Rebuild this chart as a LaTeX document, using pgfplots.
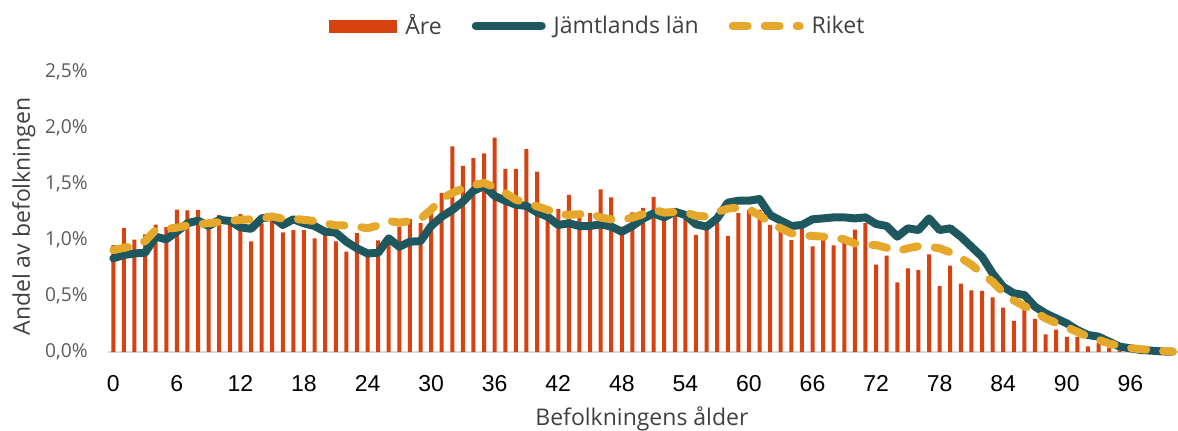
\documentclass[border=0pt]{standalone}
\usepackage{fontspec}
\setmainfont{Open Sans}
\newfontfamily\tickfont{Liberation Sans}
\usepackage{pgfplots}
\usepackage{pgfplotstable}
\pgfplotsset{compat=1.18}

\definecolor{are}{RGB}{215,66,17}
\definecolor{jamt}{RGB}{30,88,94}
\definecolor{riket}{RGB}{230,168,42}
\definecolor{axgrey}{RGB}{217,217,217}
\definecolor{txt}{RGB}{64,64,64}
\definecolor{ticktxt}{RGB}{89,89,89}

\pgfplotstableread{
age are jamt riket
0 0.955 0.837 0.91
1 1.107 0.866 0.93
2 1.003 0.88 0.95
3 1.05 0.886 0.99
4 1.137 1.03 1.09
5 1.116 1.006 1.10
6 1.271 1.074 1.11
7 1.265 1.149 1.13
8 1.268 1.173 1.14
9 1.12 1.125 1.15
10 1.223 1.18 1.16
11 1.19 1.17 1.17
12 1.232 1.113 1.18
13 0.988 1.10 1.185
14 1.149 1.193 1.19
15 1.173 1.208 1.21
16 1.069 1.134 1.19
17 1.089 1.185 1.19
18 1.089 1.149 1.18
19 1.015 1.125 1.17
20 1.06 1.074 1.15
21 0.988 1.066 1.13
22 0.896 0.985 1.13
23 1.062 0.926 1.12
24 0.88 0.88 1.105
25 0.997 0.886 1.13
26 0.98 1.015 1.17
27 1.119 0.94 1.155
28 1.187 0.985 1.17
29 1.15 0.99 1.19
30 1.238 1.125 1.27
31 1.42 1.208 1.37
32 1.836 1.268 1.42
33 1.661 1.342 1.46
34 1.732 1.44 1.49
35 1.774 1.482 1.51
36 1.914 1.393 1.47
37 1.634 1.351 1.42
38 1.634 1.315 1.36
39 1.812 1.304 1.33
40 1.61 1.247 1.30
41 1.268 1.208 1.27
42 1.277 1.134 1.23
43 1.402 1.149 1.225
44 1.232 1.125 1.23
45 1.24 1.125 1.24
46 1.452 1.14 1.20
47 1.381 1.12 1.185
48 1.12 1.074 1.18
49 1.247 1.125 1.20
50 1.286 1.19 1.23
51 1.384 1.238 1.27
52 1.193 1.202 1.245
53 1.24 1.253 1.25
54 1.208 1.223 1.25
55 1.045 1.14 1.215
56 1.104 1.119 1.21
57 1.19 1.193 1.25
58 1.036 1.333 1.28
59 1.241 1.351 1.29
60 1.268 1.351 1.275
61 1.27 1.366 1.22
62 1.134 1.223 1.155
63 1.09 1.173 1.105
64 1.0 1.125 1.06
65 1.1 1.134 1.04
66 0.943 1.185 1.036
67 1.015 1.193 1.03
68 0.952 1.202 1.02
69 1.0 1.202 1.006
70 1.092 1.193 0.97
71 1.15 1.202 0.955
72 0.78 1.143 0.955
73 0.86 1.125 0.93
74 0.622 1.03 0.90
75 0.747 1.104 0.926
76 0.732 1.089 0.945
77 0.872 1.193 0.94
78 0.589 1.089 0.926
79 0.771 1.104 0.89
80 0.61 1.03 0.84
81 0.55 0.94 0.78
82 0.545 0.851 0.70
83 0.488 0.702 0.628
84 0.396 0.583 0.53
85 0.277 0.524 0.46
86 0.41 0.509 0.41
87 0.295 0.405 0.36
88 0.158 0.345 0.30
89 0.2 0.30 0.26
90 0.134 0.256 0.22
91 0.134 0.196 0.18
92 0.05 0.152 0.137
93 0.08 0.137 0.11
94 0.04 0.092 0.075
95 0.015 0.048 0.055
96 0.01 0.033 0.035
97 0.005 0.018 0.025
98 0.003 0.012 0.018
99 0.002 0.005 0.008
100 0 0.003 0.004
}\data

\begin{document}
\begin{tikzpicture}
\begin{axis}[
  name=ax,
  scale only axis,
  width=535pt, height=140pt,
  xmin=-0.5, xmax=100.5,
  ymin=0, ymax=2.5,
  axis x line*=bottom, axis y line*=left,
  x axis line style={draw=axgrey, line width=0.8pt, -},
  y axis line style={draw=none},
  major tick length=0pt,
  xtick={0,6,...,96},
  ytick={0,0.5,...,2.5},
  /pgf/number format/assume math mode=true,
  xticklabel style={font=\tickfont\fontsize{11.5}{13}\selectfont, text=black, anchor=base, yshift=-19.5pt},
  yticklabel style={font=\fontsize{9.6}{12}\selectfont, text=ticktxt, anchor=east, inner sep=0pt, xshift=-10pt},
  yticklabel={\pgfmathprintnumber[fixed,fixed zerofill,precision=1,use comma]{\tick}\%},
  xlabel={Befolkningens ålder},
  ylabel={Andel av befolkningen},
  xlabel style={font=\fontsize{11.5}{13}\selectfont, text=txt, at={(axis description cs:0.499,-0.2607)}, anchor=base},
  ylabel style={font=\fontsize{11.5}{13}\selectfont, text=txt, at={(axis description cs:-0.0729,0.484)}, anchor=base},
  legend columns=3,
  legend style={draw=none, fill=none, inner sep=0pt, at={(0.2065,1.164)}, anchor=west,
    font=\fontsize{11.5}{13}\selectfont, text=txt,
    nodes={inner sep=0pt},
    /tikz/every odd column/.append style={column sep=4pt},
    /tikz/every even column/.append style={column sep=15pt}},
  clip=false,
]
\addplot[ybar, bar width=2pt, bar shift=0pt, fill=are, draw=none,
  legend image code/.code={\fill[are] (0pt,-3.25pt) rectangle (34pt,3.25pt);}]
  table[x=age, y=are] {\data};
\addlegendentry{Åre}
\addplot[jamt, line width=4pt, line join=round, line cap=round,
  legend image code/.code={\draw[jamt, line width=4pt, line cap=round] (0pt,0pt) -- (33pt,0pt);}]
  table[x=age, y=jamt] {\data};
\addlegendentry{Jämtlands län}
\addplot[riket, line width=4pt, line join=round, line cap=round, dash pattern=on 7.5pt off 8.5pt,
  legend image code/.code={\draw[riket, line width=4pt, line cap=round, dash pattern=on 7.5pt off 8.5pt] (0pt,0pt) -- (33.5pt,0pt);}]
  table[x=age, y=riket] {\data};
\addlegendentry{Riket}
\end{axis}
\pgfresetboundingbox
\path (ax.south west) ++(-54pt,-39pt) rectangle ([shift={(0pt,36pt)}]ax.north east);
\end{tikzpicture}
\end{document}
